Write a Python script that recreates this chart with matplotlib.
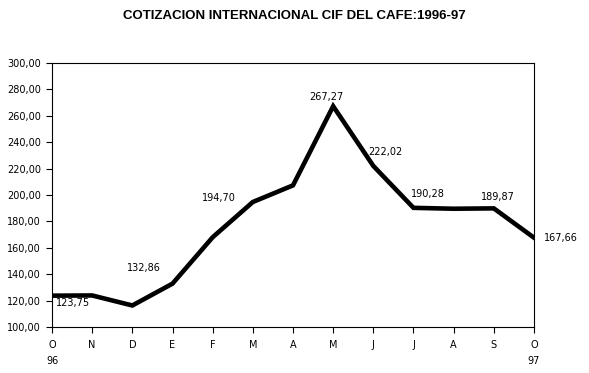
import matplotlib.pyplot as plt
import numpy as np

# Data****************************************************************
months = ['O', 'N', 'D', 'E', 'F', 'M', 'A', 'M', 'J', 'J', 'A', 'S', 'O']
years = {0: '96', 12: '97'}
prices = [123.75, 123.9, 116.3, 132.86, 168.0, 194.70, 207.3,
          267.27, 222.02, 190.28, 189.6, 189.87, 167.66]
# which points get a value label, and where (offset in pixels, alignment)
labelled = {0: (4, -7, 'left'), 3: (-12, 16, 'right'), 5: (-17, 4, 'right'),
            7: (-7, 9, 'center'), 8: (-5, 14, 'left'), 9: (14, 14, 'center'),
            11: (4, 11, 'center'), 12: (10, 0, 'left')}

title = 'COTIZACION INTERNACIONAL CIF DEL CAFE:1996-97'
yticks = np.arange(100, 301, 20)

def comma(v):
    return f'{v:.2f}'.replace('.', ',')

# Plot****************************************************************
plt.rcParams['font.family'] = ['DejaVu Sans']
fig = plt.figure(figsize=(5.89, 3.73), dpi=100)
ax = fig.add_axes([0.0883, 0.1233, 0.8183, 0.7078])

x = np.arange(len(months))
ax.plot(x, prices, color='black', lw=3.3, solid_joinstyle='miter')

for i, (dx, dy, ha) in labelled.items():
    ax.annotate(comma(prices[i]), (x[i], prices[i]), xytext=(dx, dy),
                textcoords='offset pixels', ha=ha, va='center', fontsize=7)

ax.set_xlim(0, len(months) - 1)
ax.set_ylim(100, 300)
ax.set_yticks(yticks)
ax.set_yticklabels([comma(v) for v in yticks], fontsize=7)
ax.set_xticks(x)
xlabels = [m + ('\n' + years[i] if i in years else '') for i, m in enumerate(months)]
ax.set_xticklabels(xlabels, fontsize=7, va='top')
for lab in ax.get_xticklabels():
    lab.set_linespacing(1.75)
ax.tick_params(length=4, width=0.8)
ax.tick_params(axis='x', pad=5)
ax.tick_params(axis='y', pad=4)
for s in ax.spines.values():
    s.set_linewidth(0.8)

fig.text(0.5, 0.958, title, ha='center', va='center', fontsize=9.5,
         fontweight='bold', family=['Liberation Sans', 'DejaVu Sans'])

fig.savefig('out.png', dpi=100)
